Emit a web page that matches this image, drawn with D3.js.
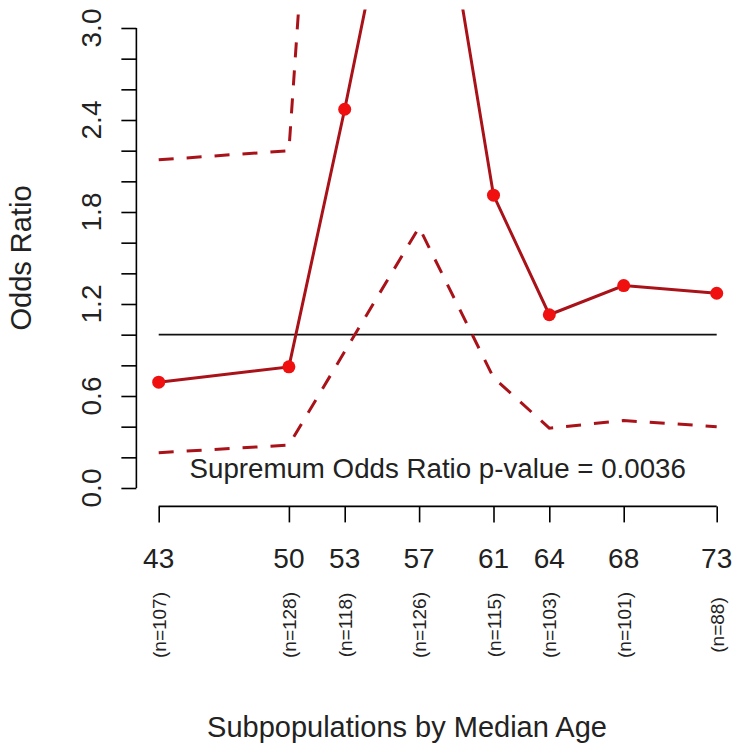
<!DOCTYPE html>
<html>
<head>
<meta charset="utf-8">
<script src="https://cdn.jsdelivr.net/npm/d3@7"></script>
<style>
  html, body { margin: 0; padding: 0; background: #fff; }
  svg { display: block; font-family: "Liberation Sans", Arial, sans-serif; }
</style>
</head>
<body>
<svg id="chart" width="737" height="750"></svg>
<script>
// ---- data ----
const ages = [43, 50, 53, 57, 61, 64, 68, 73];
const nCounts = [107, 128, 118, 126, 115, 103, 101, 88];
const oddsRatio = [0.69, 0.79, 2.47, 4.85, 1.91, 1.13, 1.32, 1.27];
const lowerCI = [0.23, 0.28, 0.89, 1.70, 0.72, 0.39, 0.44, 0.40];
const upperCI = [2.14, 2.20, 7.5, 12.0, 6.0, 3.6, 3.9, 4.2];
const yTickValues = [0, 0.2, 0.4, 0.6, 0.8, 1.0, 1.2, 1.4, 1.6, 1.8, 2.0, 2.2, 2.4, 2.6, 2.8, 3.0];
const yTickLabels = ["0.0", "0.6", "1.2", "1.8", "2.4", "3.0"];
const referenceValue = 1.0;
const pValueText = "Supremum Odds Ratio p-value = 0.0036";
const xTitle = "Subpopulations by Median Age";
const yTitle = "Odds Ratio";

// ---- layout ----
const svg = d3.select("#chart");
const x = d3.scaleLinear().domain([43, 73]).range([158.7, 716.7]);
const y = d3.scaleLinear().domain([0, 3]).range([488, 28]);
const lineColor = "#AA1219";
const dotColor = "#F01010";
const tickFont = 28;
const titleFont = 29;

// clip = R plot region (4% padding)
const pad = 0.04;
const xr = [43 - 30 * pad, 73 + 30 * pad];
const yr = [0 - 3 * pad, 3 + 3 * pad];
svg.append("clipPath").attr("id", "plotclip")
  .append("rect")
  .attr("x", x(xr[0])).attr("y", y(yr[1]))
  .attr("width", x(xr[1]) - x(xr[0]))
  .attr("height", y(yr[0]) - y(yr[1]));

// ---- y axis ----
const yAxis = d3.axisLeft(y).tickValues(yTickValues).tickSize(15).tickFormat("");
const gy = svg.append("g").attr("transform", `translate(${x(xr[0])},0)`).call(yAxis);
gy.select(".domain").attr("stroke", "#000").attr("stroke-width", 1.6).attr("d", `M0,${y(0)}V${y(3)}`);
gy.selectAll(".tick line").attr("stroke", "#000").attr("stroke-width", 1.6);

svg.append("g").selectAll("text").data(yTickLabels).join("text")
  .attr("transform", d => `translate(101,${y(+d)}) rotate(-90)`)
  .attr("text-anchor", "middle")
  .attr("font-size", tickFont)
  .attr("fill", "#222")
  .text(d => d);

svg.append("text")
  .attr("transform", `translate(31,${(y(0) + y(3)) / 2}) rotate(-90)`)
  .attr("text-anchor", "middle")
  .attr("font-size", titleFont)
  .attr("fill", "#222")
  .text(yTitle);

// ---- x axis ----
const xAxis = d3.axisBottom(x).tickValues(ages).tickSize(16).tickFormat("");
const gx = svg.append("g").attr("transform", `translate(0,${y(yr[0])})`).call(xAxis);
gx.select(".domain").attr("stroke", "#000").attr("stroke-width", 1.6).attr("d", `M${x(43)},0H${x(73)}`);
gx.selectAll(".tick line").attr("stroke", "#000").attr("stroke-width", 1.6);

svg.append("g").selectAll("text").data(ages).join("text")
  .attr("x", d => x(d)).attr("y", 568)
  .attr("text-anchor", "middle")
  .attr("font-size", tickFont)
  .attr("fill", "#222")
  .text(d => d);

svg.append("g").selectAll("text").data(nCounts).join("text")
  .attr("transform", (d, i) => `translate(${x(ages[i]) + 7},625) rotate(-90)`)
  .attr("text-anchor", "middle")
  .attr("font-size", 19)
  .attr("fill", "#222")
  .text(d => `(n=${d})`);

svg.append("text")
  .attr("x", 407).attr("y", 737)
  .attr("text-anchor", "middle")
  .attr("font-size", titleFont)
  .attr("fill", "#222")
  .text(xTitle);

// ---- plot content ----
const plot = svg.append("g").attr("clip-path", "url(#plotclip)");

plot.append("line")
  .attr("x1", x(43)).attr("x2", x(73))
  .attr("y1", y(referenceValue)).attr("y2", y(referenceValue))
  .attr("stroke", "#111").attr("stroke-width", 1.6);

const line = d3.line().x((d, i) => x(ages[i])).y(d => y(d));

plot.append("path").datum(lowerCI)
  .attr("d", line).attr("fill", "none")
  .attr("stroke", lineColor).attr("stroke-width", 3)
  .attr("stroke-dasharray", "15,13");

plot.append("path").datum(upperCI)
  .attr("d", line).attr("fill", "none")
  .attr("stroke", lineColor).attr("stroke-width", 3)
  .attr("stroke-dasharray", "15,13");

plot.append("path").datum(oddsRatio)
  .attr("d", line).attr("fill", "none")
  .attr("stroke", lineColor).attr("stroke-width", 3);

plot.append("g").selectAll("circle").data(oddsRatio).join("circle")
  .attr("cx", (d, i) => x(ages[i])).attr("cy", d => y(d))
  .attr("r", 6.5).attr("fill", dotColor);

svg.append("text")
  .attr("x", x(58)).attr("y", 478)
  .attr("text-anchor", "middle")
  .attr("font-size", 27.7)
  .attr("fill", "#222")
  .text(pValueText);
</script>
</body>
</html>
